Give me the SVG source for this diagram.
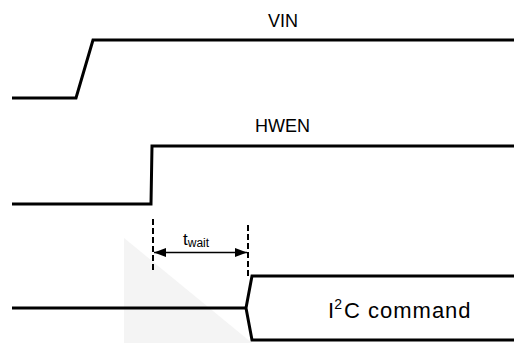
<svg xmlns="http://www.w3.org/2000/svg" width="514" height="343" viewBox="0 0 514 343">
  <style>
    .sig { fill: none; stroke: #000; stroke-width: 3; stroke-linejoin: miter; }
    .dash { fill: none; stroke: #000; stroke-width: 2; stroke-dasharray: 6 3; }
    .dim { fill: none; stroke: #000; stroke-width: 1.4; }
    .lbl { font-family: "Liberation Sans", Arial, sans-serif; fill: #000; }
  </style>
  <defs>
    <marker id="ah" viewBox="0 0 12 9" refX="12" refY="4.5" markerWidth="12" markerHeight="9" markerUnits="userSpaceOnUse" orient="auto-start-reverse">
      <path d="M0,0 L12,4.5 L0,9 Z" fill="#000"/>
    </marker>
  </defs>
  <rect width="514" height="343" fill="#fff"/>
  <polygon points="124,238 124,343 252,343" fill="#f4f4f4"/>

  <g id="vin">
    <polyline class="sig" points="12,98 76,98 93,40 514,40"/>
    <text class="lbl" x="268" y="27" font-size="18">VIN</text>
  </g>
  <g id="hwen">
    <polyline class="sig" points="12,204 151,204 152,146 514,146"/>
    <text class="lbl" x="255" y="132" font-size="18">HWEN</text>
  </g>
  <g id="i2c">
    <polyline class="sig" points="12,308 246,308"/>
    <polyline class="sig" points="514,276 252,276 246,308 252,340 514,340"/>
    <text class="lbl" x="328" y="318" font-size="22">I<tspan font-size="14" dy="-9">2</tspan><tspan x="344" dy="9" letter-spacing="1">C command</tspan></text>
  </g>
  <g id="connectors">
    <line class="dash" x1="153" y1="219" x2="153" y2="272"/>
    <line class="dash" x1="248" y1="225" x2="248" y2="278"/>
    <line class="dim" x1="154" y1="252.5" x2="247" y2="252.5" marker-start="url(#ah)" marker-end="url(#ah)"/>
    <text class="lbl" x="183" y="245" font-size="17">t<tspan font-size="12" dy="2">wait</tspan></text>
  </g>
</svg>
